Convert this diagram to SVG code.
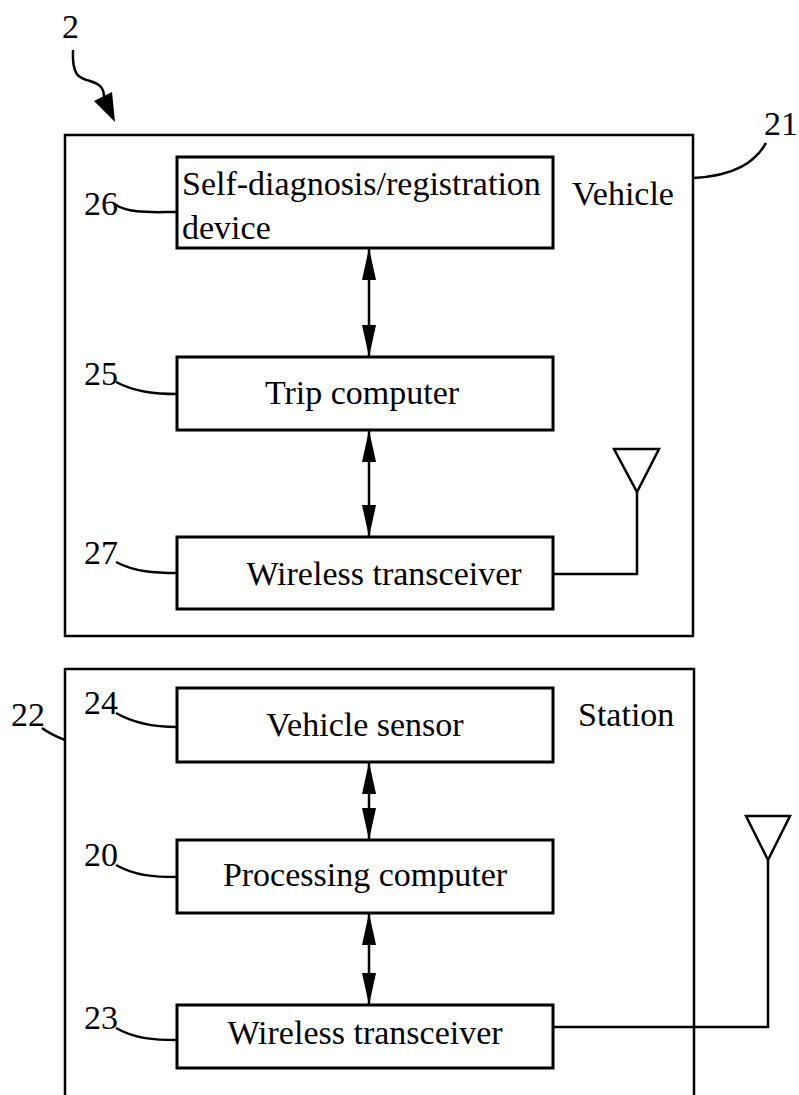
<svg xmlns="http://www.w3.org/2000/svg" width="799" height="1095" viewBox="0 0 799 1095">
<style>
.box{fill:#fff;stroke:#000;stroke-width:3}
.outer{fill:none;stroke:#000;stroke-width:2.5}
.ln{fill:none;stroke:#000;stroke-width:2.5}
.t{font-family:"Liberation Serif","Times New Roman",serif;font-size:34px;fill:#000}
.m{text-anchor:middle}
</style>
<defs>
<marker id="ah" viewBox="0 0 32 14" refX="32" refY="7" markerWidth="32" markerHeight="14" markerUnits="userSpaceOnUse" orient="auto-start-reverse">
<path d="M0,0 L32,7 L0,14 z" fill="#000"/>
</marker>
</defs>
<g id="ref-2">
<text class="t" x="62" y="38">2</text>
<path class="ln" d="M73,50 C72,75 78,78 90,81 C100,84 104,88 104,97"/>
<polygon points="115,122 94,101 112,92" fill="#000"/>
</g>
<g id="vehicle">
<rect class="outer" x="65" y="135" width="628" height="501"/>
<text class="t" x="572" y="205">Vehicle</text>
<text class="t" x="764" y="135">21</text>
<path class="ln" d="M693,178 C735,176 755,162 766,143"/>
</g>
<g id="node-26">
<rect class="box" x="177" y="157" width="376" height="91"/>
<text class="t" x="182" y="195">Self-diagnosis/registration</text>
<text class="t" x="182" y="239">device</text>
<text class="t" x="84" y="215">26</text>
<path class="ln" d="M114,204 C130,214 150,212 177,212"/>
</g>
<g id="node-25">
<rect class="box" x="177" y="357" width="376" height="73"/>
<text class="t m" x="362" y="404">Trip computer</text>
<text class="t" x="84" y="385">25</text>
<path class="ln" d="M116,382 C135,392 155,394 177,394"/>
</g>
<g id="node-27">
<rect class="box" x="177" y="537" width="376" height="72"/>
<text class="t m" x="384" y="585">Wireless transceiver</text>
<text class="t" x="84" y="564">27</text>
<path class="ln" d="M116,562 C135,572 155,573 177,573"/>
</g>
<g id="antenna-1">
<polygon class="outer" points="614,449 659,449 637,492"/>
<path class="ln" d="M637,492 V574 H553"/>
</g>
<g id="station">
<path class="outer" d="M65,1100 V669 H694 V1100"/>
<text class="t" x="578" y="726">Station</text>
<text class="t" x="11" y="726">22</text>
<path class="ln" d="M42,728 C50,734 57,737 65,740"/>
</g>
<g id="node-24">
<rect class="box" x="177" y="688" width="376" height="74"/>
<text class="t m" x="365" y="736">Vehicle sensor</text>
<text class="t" x="84" y="714">24</text>
<path class="ln" d="M116,713 C135,724 155,727 177,727"/>
</g>
<g id="node-20">
<rect class="box" x="177" y="840" width="376" height="73"/>
<text class="t m" x="365" y="886">Processing computer</text>
<text class="t" x="84" y="866">20</text>
<path class="ln" d="M116,865 C135,876 155,877 177,877"/>
</g>
<g id="node-23">
<rect class="box" x="177" y="1005" width="376" height="63"/>
<text class="t m" x="365" y="1044">Wireless transceiver</text>
<text class="t" x="84" y="1029">23</text>
<path class="ln" d="M116,1028 C135,1039 155,1040 177,1040"/>
</g>
<g id="antenna-2">
<polygon class="outer" points="746,816 790,816 768,860"/>
<path class="ln" d="M768,860 V1027 H553"/>
</g>
<g id="connectors">
<line class="ln" x1="369" y1="248" x2="369" y2="357" marker-start="url(#ah)" marker-end="url(#ah)"/>
<line class="ln" x1="369" y1="430" x2="369" y2="537" marker-start="url(#ah)" marker-end="url(#ah)"/>
<line class="ln" x1="369" y1="762" x2="369" y2="840" marker-start="url(#ah)" marker-end="url(#ah)"/>
<line class="ln" x1="369" y1="913" x2="369" y2="1005" marker-start="url(#ah)" marker-end="url(#ah)"/>
</g>
</svg>
